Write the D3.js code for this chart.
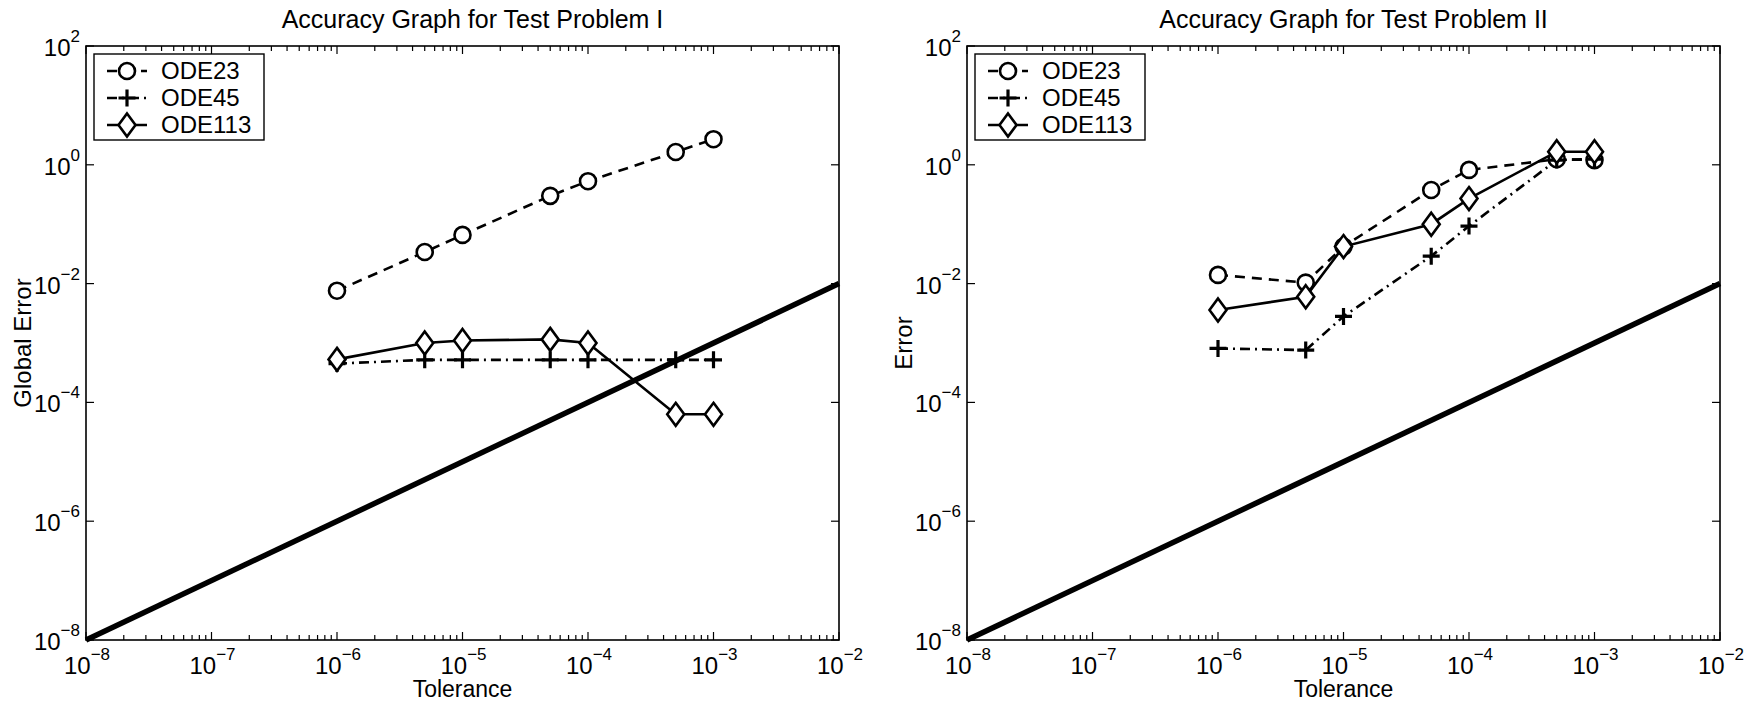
<!DOCTYPE html>
<html>
<head>
<meta charset="utf-8">
<script src="https://cdn.jsdelivr.net/npm/d3@7"></script>
<style>
  body { margin: 0; background: #fff; }
  svg { font-family: "Liberation Sans", Arial, sans-serif; }
</style>
</head>
<body>
<div class="chart"></div>
<script>
// tolerances used in both problems
var tol = [1e-6, 5e-6, 1e-5, 5e-5, 1e-4, 5e-4, 1e-3];

// problem I (global error)
var p1_ode23  = [7.6e-3, 0.034, 0.066, 0.30, 0.53, 1.64, 2.7];
var p1_ode45  = [4.5e-4, 5.2e-4, 5.2e-4, 5.2e-4, 5.2e-4, 5.2e-4, 5.2e-4];
var p1_ode113 = [5.3e-4, 1.0e-3, 1.1e-3, 1.15e-3, 1.0e-3, 6.3e-5, 6.3e-5];

// problem II (error)
var p2_ode23  = [0.014, 0.0104, 0.042, 0.377, 0.82, 1.24, 1.2];
var p2_ode45  = [8.1e-4, 7.6e-4, 2.8e-3, 0.029, 0.093, 1.2, 1.25];
var p2_ode113 = [3.6e-3, 6.0e-3, 0.042, 0.10, 0.27, 1.66, 1.66];

var refLine = [1e-8, 1e-2];   // error = tolerance
var xDecades = [-8, -7, -6, -5, -4, -3, -2];
var yDecades = [2, 0, -2, -4, -6, -8];
var seriesNames = ["ODE23", "ODE45", "ODE113"];

var W = 1754, H = 703;
var svg = d3.select(".chart").append("svg")
    .attr("width", W).attr("height", H);

var panels = [
  {left: 86, right: 839, title: "Accuracy Graph for Test Problem I", ylab: "Global Error",
   data: [p1_ode23, p1_ode45, p1_ode113]},
  {left: 967, right: 1720, title: "Accuracy Graph for Test Problem II", ylab: "Error",
   data: [p2_ode23, p2_ode45, p2_ode113]}
];
var plotTop = 46, plotBottom = 640;

var styles = [
  {dash: "10,7", marker: "circle"},
  {dash: "10,5,2,5", marker: "plus"},
  {dash: null, marker: "diamond"}
];

function drawMarker(g, type, cx, cy) {
  if (type == "circle") {
    g.append("circle").attr("cx", cx).attr("cy", cy).attr("r", 8)
      .attr("fill", "#fff").attr("stroke", "#000").attr("stroke-width", 2.6);
  } else if (type == "plus") {
    g.append("path").attr("d", "M" + (cx - 8.5) + "," + cy + "H" + (cx + 8.5) + "M" + cx + "," + (cy - 8.5) + "V" + (cy + 8.5))
      .attr("stroke", "#000").attr("stroke-width", 3.2).attr("fill", "none");
  } else {
    g.append("path").attr("d", "M" + cx + "," + (cy - 11.5) + "L" + (cx + 8.5) + "," + cy + "L" + cx + "," + (cy + 11.5) + "L" + (cx - 8.5) + "," + cy + "Z")
      .attr("fill", "#fff").attr("stroke", "#000").attr("stroke-width", 2.6);
  }
}

function powLabel(sel, x, y, exp, anchor) {
  var t = sel.append("text").attr("x", x).attr("y", y)
    .attr("text-anchor", anchor).style("font-size", "24px").attr("fill", "#000");
  t.append("tspan").text("10");
  t.append("tspan").attr("dy", -14).style("font-size", "17px").text(exp < 0 ? "\u2212" + (-exp) : exp);
  return t;
}

panels.forEach(function(p) {
  var x = d3.scaleLog().domain([1e-8, 1e-2]).range([p.left, p.right]);
  var y = d3.scaleLog().domain([1e-8, 1e2]).range([plotBottom, plotTop]);
  var g = svg.append("g");

  // minor x ticks
  var minors = [];
  xDecades.slice(0, -1).forEach(function(d) {
    for (var k = 2; k <= 9; k++) minors.push(k * Math.pow(10, d));
  });
  var majorsX = xDecades.map(function(d) { return Math.pow(10, d); });
  var majorsY = yDecades.map(function(d) { return Math.pow(10, d); });

  [[plotBottom, 1], [plotTop, -1]].forEach(function(a) {
    g.selectAll(null).data(minors).enter().append("line")
      .attr("x1", function(d) { return x(d); }).attr("x2", function(d) { return x(d); })
      .attr("y1", a[0]).attr("y2", a[0] - a[1] * 5)
      .attr("stroke", "#000").attr("stroke-width", 1.2);
    g.selectAll(null).data(majorsX).enter().append("line")
      .attr("x1", function(d) { return x(d); }).attr("x2", function(d) { return x(d); })
      .attr("y1", a[0]).attr("y2", a[0] - a[1] * 8)
      .attr("stroke", "#000").attr("stroke-width", 1.2);
  });
  [[p.left, 1], [p.right, -1]].forEach(function(a) {
    g.selectAll(null).data(majorsY).enter().append("line")
      .attr("y1", function(d) { return y(d); }).attr("y2", function(d) { return y(d); })
      .attr("x1", a[0]).attr("x2", a[0] + a[1] * 8)
      .attr("stroke", "#000").attr("stroke-width", 1.2);
  });

  // reference line
  g.append("line")
    .attr("x1", x(refLine[0])).attr("y1", y(refLine[0]))
    .attr("x2", x(refLine[1])).attr("y2", y(refLine[1]))
    .attr("stroke", "#000").attr("stroke-width", 5.5);

  // series
  var line = d3.line().x(function(d) { return x(d[0]); }).y(function(d) { return y(d[1]); });
  p.data.forEach(function(vals, i) {
    var pts = tol.map(function(t, j) { return [t, vals[j]]; });
    g.append("path").datum(pts).attr("d", line)
      .attr("fill", "none").attr("stroke", "#000").attr("stroke-width", 2.6)
      .attr("stroke-dasharray", styles[i].dash);
  });
  p.data.forEach(function(vals, i) {
    tol.forEach(function(t, j) { drawMarker(g, styles[i].marker, x(t), y(vals[j])); });
  });

  // box
  g.append("rect").attr("x", p.left).attr("y", plotTop)
    .attr("width", p.right - p.left).attr("height", plotBottom - plotTop)
    .attr("fill", "none").attr("stroke", "#000").attr("stroke-width", 1.6);

  // tick labels
  xDecades.forEach(function(d) { powLabel(g, x(Math.pow(10, d)) + 1, 674, d, "middle"); });
  yDecades.forEach(function(d) { powLabel(g, p.left - 6, y(Math.pow(10, d)) + 10, d, "end"); });

  // titles
  g.append("text").attr("x", (p.left + p.right) / 2 + 10).attr("y", 28)
    .attr("text-anchor", "middle").style("font-size", "25px").text(p.title);
  g.append("text").attr("x", (p.left + p.right) / 2).attr("y", 697)
    .attr("text-anchor", "middle").style("font-size", "23px").text("Tolerance");
  g.append("text").attr("transform", "translate(" + (p.left - 55) + "," + ((plotTop + plotBottom) / 2) + ") rotate(-90)")
    .attr("text-anchor", "middle").style("font-size", "24px").text(p.ylab);

  // legend
  var lx = p.left + 8, ly = 54;
  g.append("rect").attr("x", lx).attr("y", ly).attr("width", 170).attr("height", 86)
    .attr("fill", "#fff").attr("stroke", "#000").attr("stroke-width", 1.4);
  seriesNames.forEach(function(name, i) {
    var cy = ly + 17 + i * 27;
    g.append("line").attr("x1", lx + 13).attr("x2", lx + 53).attr("y1", cy).attr("y2", cy)
      .attr("stroke", "#000").attr("stroke-width", 2.6).attr("stroke-dasharray", styles[i].dash);
    drawMarker(g, styles[i].marker, lx + 33, cy);
    g.append("text").attr("x", lx + 67).attr("y", cy + 8).style("font-size", "24px").text(name);
  });
});
</script>
</body>
</html>
